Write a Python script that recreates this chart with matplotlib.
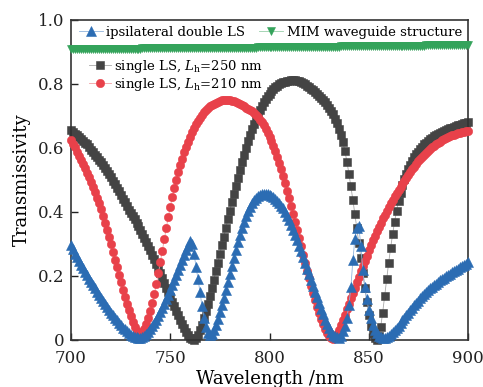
import numpy as np
import matplotlib
matplotlib.use('Agg')
import matplotlib.pyplot as plt

plt.rcParams['font.family'] = 'DejaVu Serif'
plt.rcParams['mathtext.fontset'] = 'dejavuserif'

wavelength = np.arange(700, 901)

# single LS, Lh = 250 nm
t_ls250 = [
    .656, .651, .645, .640, .634, .628, .622, .617, .611, .603,
    .595, .587, .579, .571, .564, .556, .547, .537, .528, .518,
    .508, .498, .487, .476, .465, .453, .441, .430, .418, .406,
    .398, .388, .377, .366, .355, .343, .331, .319, .306, .293,
    .280, .266, .252, .238, .224, .209, .194, .179, .164, .149,
    .134, .120, .106, .092, .078, .064, .050, .037, .025, .015,
    .007, .002, .001, .006, .016, .030, .048, .068, .090, .113,
    .137, .162, .188, .215, .242, .269, .296, .323, .350, .377,
    .404, .430, .456, .482, .507, .531, .555, .578, .600, .621,
    .641, .659, .676, .692, .707, .720, .732, .743, .753, .762,
    .770, .777, .784, .790, .795, .799, .802, .805, .807, .809,
    .810, .811, .811, .811, .810, .808, .806, .803, .799, .795,
    .790, .785, .780, .774, .768, .762, .756, .750, .743, .735,
    .726, .716, .705, .692, .677, .660, .641, .618, .590, .557,
    .520, .480, .438, .394, .349, .303, .256, .209, .163, .119,
    .079, .045, .020, .005, .001, .012, .040, .085, .137, .190,
    .240, .287, .330, .369, .404, .434, .460, .483, .503, .520,
    .535, .548, .560, .571, .580, .589, .597, .604, .611, .617,
    .622, .627, .632, .636, .640, .644, .647, .650, .653, .656,
    .659, .662, .664, .667, .669, .671, .673, .675, .677, .679,
    .681]

# single LS, Lh = 210 nm
t_ls210 = [
    .625, .614, .602, .589, .576, .563, .549, .536, .522, .508,
    .493, .478, .462, .445, .427, .408, .388, .367, .345, .322,
    .299, .275, .251, .227, .203, .180, .157, .135, .114, .094,
    .075, .057, .041, .028, .019, .016, .022, .034, .050, .069,
    .091, .116, .144, .175, .208, .243, .279, .315, .350, .384,
    .416, .446, .474, .500, .524, .546, .567, .586, .604, .620,
    .635, .649, .662, .674, .685, .695, .704, .712, .719, .725,
    .730, .735, .739, .742, .745, .747, .749, .750, .750, .750,
    .749, .748, .746, .744, .741, .738, .734, .730, .726, .723,
    .720, .715, .709, .703, .696, .689, .680, .671, .660, .648,
    .635, .621, .606, .590, .572, .553, .533, .512, .490, .467,
    .443, .419, .394, .369, .344, .318, .293, .267, .242, .217,
    .193, .169, .146, .124, .103, .084, .066, .049, .034, .022,
    .012, .005, .003, .008, .018, .031, .046, .062, .079, .096,
    .113, .130, .147, .164, .181, .198, .215, .232, .248, .264,
    .280, .296, .311, .326, .340, .354, .367, .380, .392, .404,
    .416, .427, .438, .449, .459, .469, .479, .489, .498, .507,
    .516, .525, .534, .542, .550, .558, .565, .572, .579, .585,
    .591, .597, .602, .607, .612, .616, .620, .624, .628, .631,
    .634, .637, .640, .642, .644, .646, .648, .650, .651, .652,
    .653]

# ipsilateral double LS
t_double = [
    .297, .283, .270, .258, .246, .235, .224, .213, .202, .191,
    .181, .171, .161, .151, .141, .131, .122, .112, .103, .094,
    .085, .077, .069, .061, .053, .046, .039, .033, .027, .022,
    .017, .013, .010, .008, .007, .007, .009, .013, .019, .026,
    .034, .043, .053, .064, .076, .088, .101, .114, .128, .142,
    .157, .172, .187, .203, .219, .235, .251, .266, .281, .295,
    .310, .300, .268, .228, .190, .150, .105, .068, .040, .022,
    .015, .020, .031, .046, .065, .086, .108, .131, .155, .180,
    .205, .231, .257, .282, .306, .329, .350, .370, .388, .403,
    .417, .428, .437, .444, .449, .453, .455, .456, .456, .455,
    .453, .450, .446, .441, .435, .428, .420, .411, .400, .388,
    .375, .360, .345, .329, .312, .295, .277, .259, .241, .223,
    .205, .187, .169, .151, .133, .115, .097, .080, .064, .049,
    .036, .025, .017, .011, .008, .007, .012, .028, .045, .068,
    .110, .165, .250, .315, .350, .355, .295, .220, .165, .128,
    .095, .068, .047, .032, .021, .013, .008, .006, .007, .010,
    .014, .019, .025, .031, .038, .045, .053, .061, .069, .077,
    .085, .093, .101, .108, .116, .123, .130, .137, .143, .149,
    .155, .161, .166, .171, .176, .181, .186, .190, .195, .199,
    .203, .207, .211, .215, .219, .223, .227, .231, .235, .239,
    .243]

# MIM waveguide structure
t_mim = [
    .908, .908, .908, .908, .908, .908, .908, .908, .909, .909,
    .909, .909, .909, .909, .909, .909, .909, .909, .909, .909,
    .909, .909, .910, .910, .910, .910, .910, .910, .910, .910,
    .910, .910, .910, .910, .910, .910, .911, .911, .911, .911,
    .911, .911, .911, .911, .911, .911, .911, .911, .911, .911,
    .911, .912, .912, .912, .912, .912, .912, .912, .912, .912,
    .912, .912, .912, .912, .912, .913, .913, .913, .913, .913,
    .913, .913, .913, .913, .913, .913, .913, .913, .913, .914,
    .914, .914, .914, .914, .914, .914, .914, .914, .914, .914,
    .914, .914, .914, .914, .915, .915, .915, .915, .915, .915,
    .915, .915, .915, .915, .915, .915, .915, .915, .916, .916,
    .916, .916, .916, .916, .916, .916, .916, .916, .916, .916,
    .916, .916, .917, .917, .917, .917, .917, .917, .917, .917,
    .917, .917, .917, .917, .917, .917, .918, .918, .918, .918,
    .918, .918, .918, .918, .918, .918, .918, .918, .918, .918,
    .918, .919, .919, .919, .919, .919, .919, .919, .919, .919,
    .919, .919, .919, .919, .919, .920, .920, .920, .920, .920,
    .920, .920, .920, .920, .920, .920, .920, .920, .920, .921,
    .921, .921, .921, .921, .921, .921, .921, .921, .921, .921,
    .921, .921, .921, .921, .922, .922, .922, .922, .922, .922,
    .922]

# marker colour, lighter connecting line colour
blue, blue_l = '#2b6cb3', '#8fb3dc'
green, green_l = '#34a35b', '#97cfa9'
gray, gray_l = '#444444', '#a8a8a8'
red, red_l = '#e8414a', '#f2a0a4'

fig = plt.figure(figsize=(4.83, 3.87), dpi=100)
ax = fig.add_axes([71 / 483, 47 / 387, 397 / 483, 320 / 387])


def curve(y, c, cl, m, ms, lab, z):
    h, = ax.plot(wavelength, y, color=cl, lw=0.6, marker=m, ms=ms,
                 mfc=c, mec=c, mew=0.4, clip_on=False, zorder=z, label=lab)
    return h


h_double = curve(t_double, blue, blue_l, '^', 7.0, 'ipsilateral double LS', 4)
h_mim = curve(t_mim, green, green_l, 'v', 6.0, 'MIM waveguide structure', 4)
h_250 = curve(t_ls250, gray, gray_l, 's', 5.5, r'single LS, $L_{\mathrm{h}}$=250 nm', 2)
h_210 = curve(t_ls210, red, red_l, 'o', 6.0, r'single LS, $L_{\mathrm{h}}$=210 nm', 3)

ax.set_xlim(700, 900)
ax.set_ylim(0, 1.0)
ax.set_xticks([700, 750, 800, 850, 900])
ax.set_yticks([0, 0.2, 0.4, 0.6, 0.8, 1.0])
ax.set_yticklabels(['0', '0.2', '0.4', '0.6', '0.8', '1.0'], va='center_baseline')
ax.tick_params(direction='in', length=5, width=1, labelsize=12,
               top=False, right=False, colors='#222222')
ax.tick_params(axis='x', pad=7)
ax.tick_params(axis='y', pad=5)
for s in ax.spines.values():
    s.set_linewidth(1.2)
    s.set_color('#333333')

ax.set_xlabel('Wavelength /nm', fontsize=13, labelpad=2)
ax.set_ylabel('Transmissivity', fontsize=13, labelpad=5)

leg1 = ax.legend(handles=[h_double, h_mim], loc='upper left', ncol=2,
                 bbox_to_anchor=(0.01, 0.995), frameon=False, fontsize=9.5,
                 handlelength=1.8, handletextpad=0.25, columnspacing=1.1,
                 borderaxespad=0.0, borderpad=0.3)
ax.add_artist(leg1)
ax.legend(handles=[h_250, h_210], loc='upper left',
          bbox_to_anchor=(0.035, 0.895), frameon=False, fontsize=9.5,
          handlelength=1.7, handletextpad=0.2, labelspacing=0.1,
          borderaxespad=0.0, borderpad=0.3)

fig.savefig('out.png', dpi=100)
